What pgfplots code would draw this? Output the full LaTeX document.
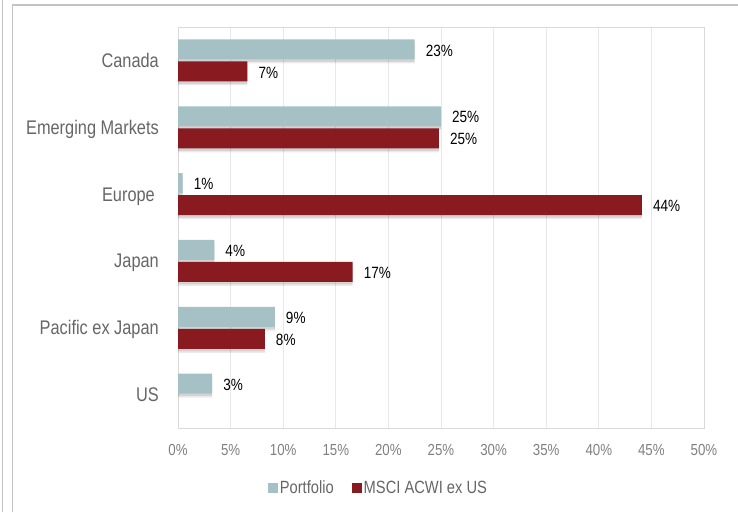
\documentclass[border=0pt]{standalone}
\usepackage{pgfplots}
\pgfplotsset{compat=1.18}
\usepackage{fontspec}
\setmainfont{Liberation Sans}[FakeStretch=0.83]
\definecolor{port}{HTML}{A5C1C5}
\definecolor{msci}{HTML}{891A1F}
\definecolor{gridc}{HTML}{E8E8E8}
\definecolor{borderc}{HTML}{D9D9D9}
\definecolor{labc}{HTML}{666666}
\definecolor{tickc}{HTML}{808080}
\definecolor{framec}{HTML}{C4C4C4}
\begin{document}
\begin{tikzpicture}
\useasboundingbox (0,0) rectangle (738pt,512pt);
\begin{axis}[
  at={(178pt,84pt)}, anchor=south west,
  scale only axis, width=526pt, height=401pt,
  xmin=0, xmax=50, ymin=-0.5, ymax=5.5,
  xbar, bar width=20pt,
  xtick={0,5,...,50},
  xticklabel={\pgfmathprintnumber{\tick}\%},
  /pgf/number format/assume math mode=true,
  ytick={0,1,2,3,4,5},
  yticklabels={US,Pacific ex Japan,Japan,Europe\kern4pt,Emerging Markets,Canada},
  xmajorgrids, major grid style={draw=gridc, line width=1pt},
  axis line style={draw=borderc, line width=1pt},
  major tick length=0pt,
  xticklabel style={font=\fontsize{16}{16}\selectfont, text=tickc, anchor=base, inner sep=0pt, yshift=-27pt},
  yticklabel style={font=\fontsize{19.7}{20}\selectfont, text=labc, anchor=base east, inner sep=0pt, xshift=-19pt, yshift=-7pt},
  legend style={at={(0.381,-0.15)}, anchor=center, draw=none, fill=none, legend columns=2,
    font=\fontsize{17.7}{18}\selectfont, text=labc,
    /tikz/every even column/.append style={column sep=16pt}},
  legend image code/.code={\fill[#1, draw=none] (0pt,-5pt) rectangle (10pt,5pt);},
  clip=false,
]
% shadows
\addplot[forget plot, fill=black, draw=none, opacity=0.10, bar shift=8.5pt] coordinates {(22.5,5) (25.0,4) (0.45,3) (3.45,2) (9.2,1) (3.25,0)};
\addplot[forget plot, fill=black, draw=none, opacity=0.08, bar shift=7pt] coordinates {(22.5,5) (25.0,4) (0.45,3) (3.45,2) (9.2,1) (3.25,0)};
\addplot[forget plot, fill=black, draw=none, opacity=0.10, bar shift=-13.5pt] coordinates {(6.6,5) (24.8,4) (44.1,3) (16.6,2) (8.25,1)};
\addplot[forget plot, fill=black, draw=none, opacity=0.08, bar shift=-15pt] coordinates {(6.6,5) (24.8,4) (44.1,3) (16.6,2) (8.25,1)};
% bars
\addplot[fill=port, draw=none, bar shift=11pt, point meta=explicit symbolic,
  nodes near coords={\pgfplotspointmeta\%},
  every node near coord/.append style={font=\fontsize{16.3}{16}\selectfont, text=black, anchor=west, inner sep=0pt, xshift=11pt, yshift=-1pt}]
  coordinates {(22.5,5)[23] (25.0,4)[25] (0.45,3)[1] (3.45,2)[4] (9.2,1)[9] (3.25,0)[3]};
\addplot[fill=msci, draw=none, bar shift=-11pt, point meta=explicit symbolic,
  nodes near coords={\pgfplotspointmeta\%},
  every node near coord/.append style={font=\fontsize{16.3}{16}\selectfont, text=black, anchor=west, inner sep=0pt, xshift=11pt, yshift=-1pt}]
  coordinates {(6.6,5)[7] (24.8,4)[25] (44.1,3)[44] (16.6,2)[17] (8.25,1)[8]};
\legend{Portfolio, MSCI ACWI ex US}
\end{axis}
\draw[framec, line width=1.5pt] (2.5pt,0) -- (2.5pt,512pt);
\draw[framec, line width=1.5pt] (12.5pt,0) -- (12.5pt,507pt) -- (738pt,507pt);
\end{tikzpicture}
\end{document}
